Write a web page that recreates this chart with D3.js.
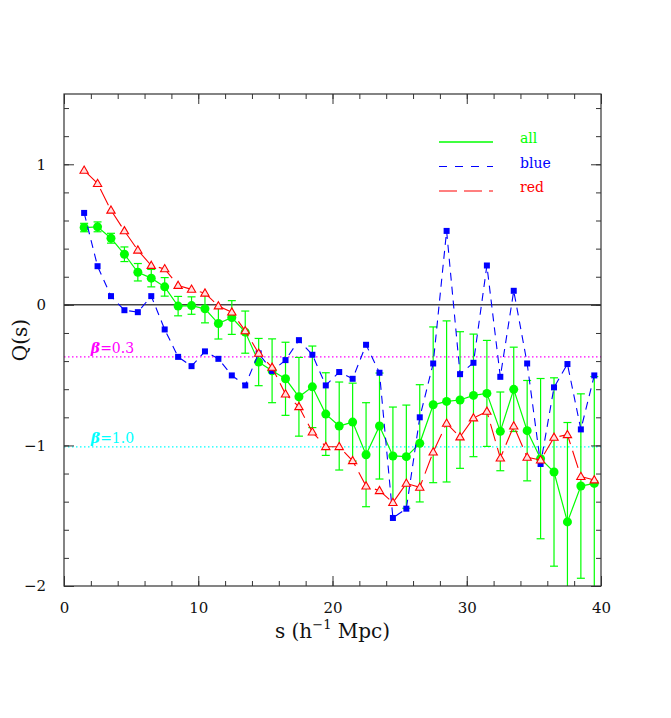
<!DOCTYPE html>
<html>
<head>
<meta charset="utf-8">
<script src="https://cdn.jsdelivr.net/npm/d3@7"></script>
<style>
  body { margin: 0; background: #fff; }
  svg { display: block; }
</style>
</head>
<body>
<svg id="chart"></svg>
<script>
// separations s (h^-1 Mpc)
const sep = [1.5, 2.5, 3.5, 4.5, 5.5, 6.5, 7.5, 8.5, 9.5, 10.5,
  11.5, 12.5, 13.5, 14.5, 15.5, 16.5, 17.5, 18.5, 19.5, 20.5,
  21.5, 22.5, 23.5, 24.5, 25.5, 26.5, 27.5, 28.5, 29.5, 30.5,
  31.5, 32.5, 33.5, 34.5, 35.5, 36.5, 37.5, 38.5, 39.5]

const allQ = [0.55, 0.555, 0.474, 0.36, 0.232, 0.19, 0.128, -0.009, -0.005, -0.028,
  -0.133, -0.09, -0.194, -0.407, -0.469, -0.526, -0.654, -0.583, -0.777, -0.862,
  -0.834, -1.066, -0.862, -1.075, -1.08, -0.985, -0.711, -0.687, -0.677, -0.644,
  -0.63, -0.9, -0.601, -0.895, -1.094, -1.189, -1.544, -1.289, -1.27]
const allErr = [0.03, 0.035, 0.035, 0.052, 0.062, 0.062, 0.066, 0.069, 0.062, 0.1,
  0.11, 0.12, 0.15, 0.168, 0.227, 0.26, 0.28, 0.29, 0.294, 0.313,
  0.277, 0.37, 0.377, 0.348, 0.367, 0.417, 0.554, 0.573, 0.486, 0.436,
  0.377, 0.28, 0.3, 0.357, 0.57, 0.67, 0.707, 0.656, 0.76]
const blueQ = [0.654, 0.275, 0.062, -0.038, -0.052, 0.062, -0.175, -0.37, -0.436, -0.331,
  -0.384, -0.502, -0.573, -0.345, -0.47, -0.393, -0.251, -0.355, -0.573, -0.478,
  -0.526, -0.284, -0.483, -1.516, -1.45, -0.8, -0.417, 0.526, -0.493, -0.412,
  0.28, -0.512, 0.1, -0.417, -1.132, -0.587, -0.421, -0.886, -0.502]
const redQ = [0.957, 0.863, 0.673, 0.526, 0.389, 0.28, 0.256, 0.138, 0.11, 0.083,
  -0.008, -0.052, -0.185, -0.345, -0.445, -0.635, -0.725, -0.905, -1.009, -1.009,
  -1.109, -1.289, -1.322, -1.407, -1.27, -1.298, -1.047, -0.843, -0.94, -0.805,
  -0.758, -1.09, -0.862, -1.085, -1.104, -0.943, -0.924, -1.222, -1.246]

const betaLines = [{ label: "0.3", q: -0.37, color: "#ff00ff" }, { label: "1.0", q: -1.011, color: "#00ffff" }]
const legendItems = ["all", "blue", "red"]

const xTicks = [0, 10, 20, 30, 40]
const yTicks = [-2, -1, 0, 1]

const W = 671, H = 718
const margin = { left: 64, right: 70, top: 94, bottom: 132 }
const axisColor = "#333"
const serif = "'DejaVu Serif', 'Liberation Serif', serif"

const svg = d3.select("svg#chart").attr("width", W).attr("height", H)

const x = d3.scaleLinear().domain([0, 40]).range([margin.left, W - margin.right])
const y = d3.scaleLinear().domain([-2, 1.5]).range([H - margin.bottom, margin.top])

svg.append("defs").append("clipPath").attr("id", "plotClip")
  .append("rect")
  .attr("x", x(0)).attr("y", y(1.5))
  .attr("width", x(40) - x(0)).attr("height", y(-2) - y(1.5))

// reference lines
svg.append("line")
  .attr("x1", x(0)).attr("x2", x(40)).attr("y1", y(0)).attr("y2", y(0))
  .style("stroke", "#444").style("stroke-width", 1.5)

betaLines.forEach(b => {
  svg.append("line")
    .attr("x1", x(0)).attr("x2", x(40)).attr("y1", y(b.q)).attr("y2", y(b.q))
    .style("stroke", b.color).style("stroke-width", 1.3)
    .style("stroke-dasharray", "1.5 2.5")
  const t = svg.append("text")
    .attr("x", x(2)).attr("y", y(b.q) - 4)
    .style("fill", b.color).style("font-family", serif).style("font-size", "14px")
  t.append("tspan").style("font-style", "italic").style("font-weight", "bold").text("β")
  t.append("tspan").text("=" + b.label)
})

const plot = svg.append("g").attr("clip-path", "url(#plotClip)")

// all: green, error bars
const green = "#00ff00"
const allG = plot.append("g")
sep.forEach((s, i) => {
  const lo = y(allQ[i] - allErr[i]), hi = y(allQ[i] + allErr[i])
  allG.append("line").attr("x1", x(s)).attr("x2", x(s)).attr("y1", lo).attr("y2", hi)
    .style("stroke", green).style("stroke-width", 1.2)
  ;[lo, hi].forEach(v => allG.append("line")
    .attr("x1", x(s) - 4).attr("x2", x(s) + 4).attr("y1", v).attr("y2", v)
    .style("stroke", green).style("stroke-width", 1.2))
})
const line = d3.line().x(d => x(d[0])).y(d => y(d[1]))
allG.append("path").attr("d", line(sep.map((s, i) => [s, allQ[i]])))
  .style("fill", "none").style("stroke", green).style("stroke-width", 1.2)
allG.selectAll("circle").data(sep).join("circle")
  .attr("cx", d => x(d)).attr("cy", (d, i) => y(allQ[i])).attr("r", 4.5)
  .style("fill", green)

// blue: short dashes, filled squares
const blueG = plot.append("g")
blueG.append("path").attr("d", line(sep.map((s, i) => [s, blueQ[i]])))
  .style("fill", "none").style("stroke", "#0000ff").style("stroke-width", 1.1)
  .style("stroke-dasharray", "8 6")
blueG.selectAll("rect").data(sep).join("rect")
  .attr("x", d => x(d) - 3).attr("y", (d, i) => y(blueQ[i]) - 3)
  .attr("width", 6).attr("height", 6).style("fill", "#0000ff")

// red: long dashes, open triangles
const redG = plot.append("g")
redG.append("path").attr("d", line(sep.map((s, i) => [s, redQ[i]])))
  .style("fill", "none").style("stroke", "#ff0000").style("stroke-width", 1.1)
  .style("stroke-dasharray", "18 7")
const tri = d3.symbol().type(d3.symbolTriangle).size(30)
redG.selectAll("path.tri").data(sep).join("path")
  .attr("class", "tri")
  .attr("d", tri)
  .attr("transform", (d, i) => `translate(${x(d)},${y(redQ[i]) + 0.5})`)
  .style("fill", "#ffe0e0").style("stroke", "#ff0000").style("stroke-width", 1.1)

// legend
const legendStyles = [
  { color: green, dash: null, width: 1.6 },
  { color: "#0000ff", dash: "8 8", width: 1.1 },
  { color: "#ff0000", dash: "18 7", width: 1.1 }]
legendItems.forEach((name, i) => {
  const ly = 142 + i * 24.5
  svg.append("line").attr("x1", 439).attr("x2", 493).attr("y1", ly).attr("y2", ly)
    .style("stroke", legendStyles[i].color).style("stroke-width", legendStyles[i].width)
    .style("stroke-dasharray", legendStyles[i].dash)
  svg.append("text").attr("x", 520).attr("y", ly + 1)
    .style("fill", legendStyles[i].color).style("font-family", serif).style("font-size", "14px")
    .text(name)
})

// axes with inward ticks on all four sides
function styleAxis(g) {
  g.select(".domain").remove()
  g.selectAll("line").style("stroke", axisColor)
  g.selectAll("text").style("font-family", serif).style("font-size", "15px").style("fill", "#111")
}
const xMinor = d3.range(0, 41, 2)
const yMinor = d3.range(-2, 1.51, 0.2)

svg.append("g").attr("transform", `translate(0,${y(-2)})`)
  .call(d3.axisBottom(x).tickValues(xMinor).tickSize(-5).tickFormat(""))
  .call(styleAxis)
svg.append("g").attr("transform", `translate(0,${y(-2)})`)
  .call(d3.axisBottom(x).tickValues(xTicks).tickSize(-10).tickPadding(16).tickFormat(d3.format("d")))
  .call(styleAxis)
svg.append("g").attr("transform", `translate(0,${y(1.5)})`)
  .call(d3.axisTop(x).tickValues(xMinor).tickSize(-5).tickFormat(""))
  .call(styleAxis)
svg.append("g").attr("transform", `translate(0,${y(1.5)})`)
  .call(d3.axisTop(x).tickValues(xTicks).tickSize(-10).tickFormat(""))
  .call(styleAxis)

svg.append("g").attr("transform", `translate(${x(0)},0)`)
  .call(d3.axisLeft(y).tickValues(yMinor).tickSize(-5).tickFormat(""))
  .call(styleAxis)
svg.append("g").attr("transform", `translate(${x(0)},0)`)
  .call(d3.axisLeft(y).tickValues(yTicks).tickSize(-10).tickPadding(18).tickFormat(d => d < 0 ? "\u2212" + Math.abs(d) : d))
  .call(styleAxis)
svg.append("g").attr("transform", `translate(${x(40)},0)`)
  .call(d3.axisRight(y).tickValues(yMinor).tickSize(-5).tickFormat(""))
  .call(styleAxis)
svg.append("g").attr("transform", `translate(${x(40)},0)`)
  .call(d3.axisRight(y).tickValues(yTicks).tickSize(-10).tickFormat(""))
  .call(styleAxis)

// frame
svg.append("rect")
  .attr("x", x(0)).attr("y", y(1.5))
  .attr("width", x(40) - x(0)).attr("height", y(-2) - y(1.5))
  .style("fill", "none").style("stroke", axisColor).style("stroke-width", 1.2)

// axis titles
const xt = svg.append("text")
  .attr("x", (x(0) + x(40)) / 2).attr("y", 638)
  .attr("text-anchor", "middle")
  .style("font-family", serif).style("font-size", "20px").style("fill", "#111")
xt.append("tspan").text("s  (h")
xt.append("tspan").attr("dy", -9).style("font-size", "13px").text("\u22121")
xt.append("tspan").attr("dy", 9).text("  Mpc)")

svg.append("text")
  .attr("transform", `translate(27,${(y(1.5) + y(-2)) / 2}) rotate(-90)`)
  .attr("text-anchor", "middle")
  .style("font-family", serif).style("font-size", "20px").style("fill", "#111")
  .text("Q(s)")
</script>
</body>
</html>
